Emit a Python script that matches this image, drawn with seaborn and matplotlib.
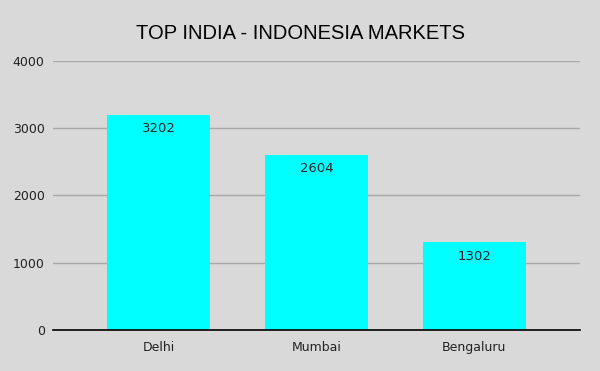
import matplotlib
matplotlib.use("Agg")
import matplotlib.pyplot as plt
import seaborn as sns
import pandas as pd

# chart data
cities = ["Delhi", "Mumbai", "Bengaluru"]
markets = [3202, 2604, 1302]
y_ticks = [0, 1000, 2000, 3000, 4000]

df = pd.DataFrame({"city": cities, "count": markets})

sns.set_style("white")
plt.rcParams["font.family"] = ["DejaVu Sans"]

fig = plt.figure(figsize=(6, 3.71), dpi=100, facecolor="#d9d9d9")
ax = fig.add_axes([0.0883, 0.1105, 0.8784, 0.7251])
ax.set_facecolor("#d9d9d9")

sns.barplot(data=df, x="city", y="count", color="#00ffff", saturation=1,
            width=0.65, linewidth=0, edgecolor="none", ax=ax, zorder=3)

for i, v in enumerate(markets):
    ax.text(i, v - 105, str(v), ha="center", va="top", fontsize=9.5,
            color="#222222", zorder=4)

ax.set_ylim(0, 4000)
ax.set_xlim(-0.67, 2.67)
ax.set_yticks(y_ticks)
ax.yaxis.grid(True, color="#a8a8a8", linewidth=1, zorder=0)
ax.set_axisbelow(True)
for side in ["top", "right", "left"]:
    ax.spines[side].set_visible(False)
ax.spines["bottom"].set_color("#000000")
ax.spines["bottom"].set_linewidth(1.2)
ax.spines["bottom"].set_zorder(5)
ax.tick_params(axis="both", length=0, labelsize=9, colors="#222222")
ax.tick_params(axis="y", pad=6)
ax.tick_params(axis="x", pad=8)
ax.set_xlabel("")
ax.set_ylabel("")

fig.suptitle("TOP INDIA - INDONESIA MARKETS", y=0.935, fontsize=14.5,
             family=["Liberation Sans", "DejaVu Sans"], color="#000000")

fig.savefig("out.png", dpi=100, facecolor=fig.get_facecolor())
